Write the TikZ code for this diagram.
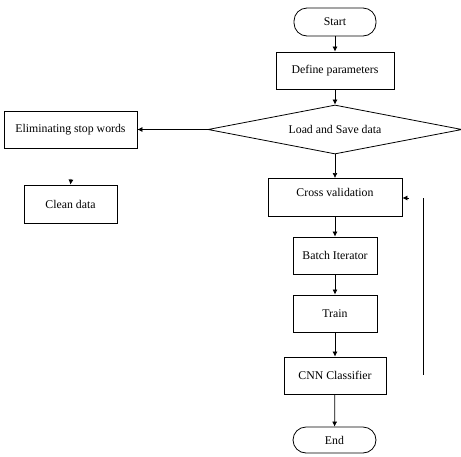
\documentclass[tikz,border=0pt]{standalone}
\usepackage{fontspec}
\setmainfont{Liberation Serif}
\usetikzlibrary{shapes.geometric,arrows.meta}
\begin{document}
\begin{tikzpicture}[x=1pt,y=-1pt,
  txt/.style={font=\fontsize{11.8}{13}\selectfont},
  box/.style={draw,line width=0.8pt,inner sep=0pt,txt},
  pill/.style={draw,line width=0.8pt,rounded corners=13pt,inner sep=0pt,txt},
  arr/.style={line width=0.7pt,-{Latex[length=5pt,width=5pt]}},
  ln/.style={line width=0.7pt}]
\useasboundingbox (0,0) rectangle (461,456);
\node[pill,minimum width=82pt,minimum height=28pt] (start) at (335,22) {Start};
\node[box,minimum width=118pt,minimum height=37pt] (def) at (335,70.5) {Define parameters};
\node[draw,line width=0.8pt,diamond,aspect=5.2,minimum width=254pt,minimum height=49pt,inner sep=0pt,txt] (load) at (335,129.5) {Load and Save data};
\node[box,minimum width=133pt,minimum height=37pt] (elim) at (70.5,129.5) {Eliminating stop words};
\node[box,minimum width=93pt,minimum height=38pt] (clean) at (70.5,204) {Clean data};
\node[box,minimum width=134pt,minimum height=38pt,anchor=north] (cv) at (335,178) {};
\node[txt] (cvt) at (335,192) {Cross validation};
\node[box,minimum width=84pt,minimum height=37pt] (batch) at (335,255.5) {Batch Iterator};
\node[box,line width=1.0pt,minimum width=84pt,minimum height=37pt] (train) at (335,313.5) {Train};
\node[box,minimum width=102pt,minimum height=37pt] (cnn) at (335,375.5) {CNN Classifier};
\node[pill,minimum width=83pt,minimum height=26pt] (end) at (334.5,440) {End};
\draw[arr] (start) -- (def);
\draw[arr] (def) -- (load);
\draw[arr] (load) -- (cv);
\draw[arr] (cv) -- (batch);
\draw[arr] (batch) -- (train);
\draw[arr] (train) -- (cnn);
\draw[arr] (cnn) -- (end);
\draw[arr] (load.west) -- (elim.east);
\coordinate (ctop) at (71,179);
\draw[arr] (ctop) -- (clean.north);
\coordinate (fbtip) at (409,198);
\draw[arr] (fbtip) -- (cv.east |- fbtip);
\coordinate (la) at (423,198);
\coordinate (lb) at (423,375);
\draw[ln] (la) -- (lb);
\end{tikzpicture}
\end{document}
